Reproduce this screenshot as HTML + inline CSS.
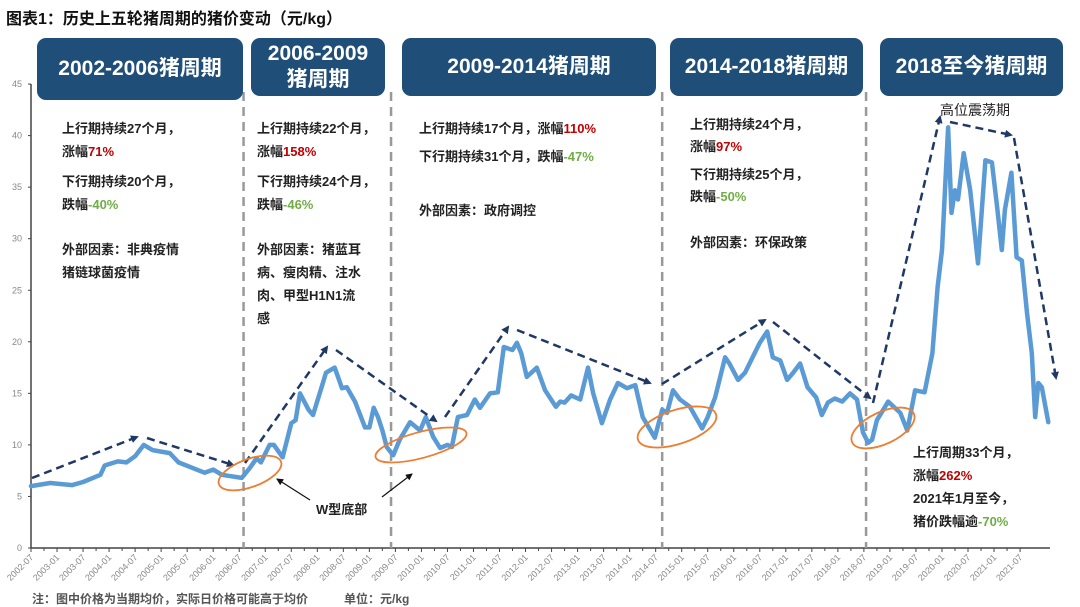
<!DOCTYPE html>
<html><head><meta charset="utf-8">
<style>
body{margin:0;background:#fff;font-family:"Liberation Sans","Noto Sans CJK SC",sans-serif;}
#wrap{position:relative;width:1080px;height:607px;overflow:hidden;}
svg{position:absolute;left:0;top:0;}
.box{position:absolute;background:#1f4e79;color:#fff;border-radius:9px;font-weight:bold;font-size:21px;display:flex;align-items:center;justify-content:center;text-align:center;line-height:26px;}
.ann{position:absolute;font-size:13px;color:#222;font-weight:bold;white-space:nowrap;}
.r{color:#c00000}.g{color:#70ad47}
</style></head><body>
<div id="wrap">
<div class="ann" style="left:6px;top:5px;font-size:16px;color:#111">图表1：历史上五轮猪周期的猪价变动（元/kg）</div>
<svg id="chart" width="1080" height="607"></svg>
<div class="box" style="left:37px;top:38px;width:206px;height:62px">2002-2006猪周期</div>
<div class="box" style="left:251px;top:38px;width:134px;height:58px">2006-2009<br>猪周期</div>
<div class="box" style="left:402px;top:38px;width:254px;height:58px">2009-2014猪周期</div>
<div class="box" style="left:670px;top:38px;width:193px;height:58px">2014-2018猪周期</div>
<div class="box" style="left:880px;top:38px;width:183px;height:58px">2018至今猪周期</div>

<div class="ann" style="left:62px;top:117px;line-height:23px">上行期持续27个月，<br>涨幅<span class="r">71%</span><br><div style="height:7px"></div>下行期持续20个月，<br>跌幅<span class="g">-40%</span><br><div style="height:22px"></div>外部因素：非典疫情<br>猪链球菌疫情</div>
<div class="ann" style="left:257px;top:117px;line-height:23px">上行期持续22个月，<br>涨幅<span class="r">158%</span><br><div style="height:7px"></div>下行期持续24个月，<br>跌幅<span class="g">-46%</span><br><div style="height:22px"></div>外部因素：猪蓝耳<br>病、瘦肉精、注水<br>肉、甲型H1N1流<br>感</div>
<div class="ann" style="left:419px;top:115px;line-height:28px">上行期持续17个月，涨幅<span class="r">110%</span><br>下行期持续31个月，跌幅<span class="g">-47%</span><br><div style="height:26px"></div>外部因素：政府调控</div>
<div class="ann" style="left:690px;top:114px;line-height:22px">上行期持续24个月，<br>涨幅<span class="r">97%</span><br><div style="height:6px"></div>下行期持续25个月，<br>跌幅<span class="g">-50%</span><br><div style="height:24px"></div>外部因素：环保政策</div>
<div class="ann" style="left:940px;top:100px;font-weight:normal;font-size:14px">高位震荡期</div>
<div class="ann" style="left:913px;top:441px;line-height:23px">上行周期33个月，<br>涨幅<span class="r">262%</span><br>2021年1月至今，<br>猪价跌幅逾<span class="g">-70%</span></div>
<div class="ann" style="left:316px;top:499px;font-size:13px">W型底部</div>
<div class="ann" style="left:32px;top:590px;font-size:12px;color:#555">注：图中价格为当期均价，实际日价格可能高于均价　　　单位：元/kg</div>
</div>
<script>
const months=[0,4.4,9.5,12,16,17,20,22,24,26,28,32,34,40,42,44,48.6,50.5,52,53,55,56,58,60,61,62,64,65,67,68,70,71.7,72.8,74.7,77,78,79,80,81,82,83.5,85,87.4,89.7,91,92.7,94.3,96,97,98.4,100.5,102.3,103.5,105.8,107.6,109,111,112,113,114.3,116.6,118.5,121,122,123,124.5,126.6,128.4,129.6,131.6,133.5,135.3,137.4,139.3,141,143.8,145.5,146.6,148,149.6,151.9,154.7,156,157.7,160,161,163,164.6,166,168,169.7,171,172.7,174.3,175.7,177.3,179,181,182.3,183.7,185.3,187,188.8,190.4,191.8,193,193.9,195,197.6,200.4,202,203.8,206,207.8,209,210,211.4,212.2,213,213.7,215,216.5,218.3,220,221.5,222.7,223.8,224.5,226,227.2,228.4,229.6,230.7,231.5,232.2,233,234.5];
const prices=[6.0,6.3,6.1,6.4,7.1,8.0,8.4,8.3,8.9,10.0,9.5,9.2,8.3,7.3,7.6,7.1,6.8,7.8,8.7,8.3,10.0,10.0,8.8,12.1,12.4,15.0,13.4,12.9,15.6,17.0,17.5,15.5,15.6,14.2,11.7,11.7,13.6,12.7,11.4,9.8,9.0,10.5,12.2,11.4,12.7,10.8,9.7,10.0,9.8,12.7,12.9,14.4,13.6,15.0,15.1,19.5,19.2,19.9,18.9,16.6,17.5,15.3,13.7,14.2,14.1,14.8,14.4,17.5,15.0,12.1,14.4,16.0,15.5,15.8,12.7,10.7,13.4,13.1,15.3,14.4,13.7,11.6,12.7,14.6,18.5,17.9,16.3,17.0,18.2,19.9,21.0,18.5,18.2,16.3,17.0,17.9,15.6,14.6,12.9,14.1,14.5,14.2,15.0,14.4,11.2,10.2,10.5,12.4,14.2,13.1,11.4,15.3,15.1,18.9,25.3,28.9,40.8,32.5,34.7,33.8,38.3,34.7,27.6,37.6,37.4,33.1,28.9,32.8,36.4,28.2,27.9,22.8,18.9,12.7,16.0,15.6,12.2];
const yTicks=[0,5,10,15,20,25,30,35,40,45];
const xLabels=[];for(let y=2002;y<=2021;y++){if(y>2002)xLabels.push(y+'-01');xLabels.push(y+'-07');}
const NS='http://www.w3.org/2000/svg';
const svg=document.getElementById('chart');
const x0=31,pxM=4.338,y0=548,pxV=10.31;
const X=m=>x0+m*pxM, Y=v=>y0-v*pxV;
function el(t,a){const e=document.createElementNS(NS,t);for(const k in a)e.setAttribute(k,a[k]);svg.appendChild(e);return e;}
const defs=el('defs',{});
const mk=document.createElementNS(NS,'marker');
mk.setAttribute('id','ah');mk.setAttribute('markerWidth','8');mk.setAttribute('markerHeight','8');mk.setAttribute('refX','6');mk.setAttribute('refY','4');mk.setAttribute('orient','auto');mk.setAttribute('markerUnits','userSpaceOnUse');
const mp=document.createElementNS(NS,'path');mp.setAttribute('d','M0,0 L8,4 L0,8 z');mp.setAttribute('fill','#1f3864');mk.appendChild(mp);defs.appendChild(mk);
let a=el('line',{x1:x0,y1:Y(45),x2:x0,y2:y0,stroke:'#444','stroke-width':1.5});

a=el('line',{x1:x0,y1:y0,x2:1050,y2:y0,stroke:'#444','stroke-width':1.5});

yTicks.forEach(v=>{
 el('line',{x1:x0-3,y1:Y(v),x2:x0,y2:Y(v),stroke:'#444'});
 const t=el('text',{x:x0-9,y:Y(v)+3,'text-anchor':'end','font-size':9,fill:'#888','font-family':'Liberation Sans'});
 t.textContent=v;
 
});
xLabels.forEach((s,i)=>{
 const xx=X(i*6);
 el('line',{x1:xx,y1:y0,x2:xx,y2:y0+4,stroke:'#444'});
 if(i<xLabels.length-1)el('line',{x1:X(i*6+3),y1:y0,x2:X(i*6+3),y2:y0+3,stroke:'#444'});
 const t=el('text',{x:xx+3,y:y0+10,'text-anchor':'end','font-size':9,fill:'#888','font-family':'Liberation Sans',transform:`rotate(-45 ${xx+3} ${y0+10})`});
 t.textContent=s;
 
});
[49,83,145.5,192.5].forEach(m=>{
 const l=el('line',{x1:X(m),y1:92,x2:X(m),y2:y0,stroke:'#999','stroke-width':2.5,'stroke-dasharray':'9,6'});
 
});
const d=months.map((m,i)=>(i?'L':'M')+X(m).toFixed(1)+','+Y(prices[i]).toFixed(1)).join(' ');
const p=el('path',{d:d,fill:'none',stroke:'#5b9bd5','stroke-width':4.5,'stroke-linejoin':'round','stroke-linecap':'round'});

[[32,478,137,437],[147,438,233,465],[245,463,327,347],[336,350,436,421],[445,417,508,327],[517,330,650,383],[662,384,765,320],[773,322,870,398],[873,403,940,117],[950,122,1011,135],[1014,138,1056,378]].forEach(s=>{
 const l=el('line',{x1:s[0],y1:s[1],x2:s[2],y2:s[3],stroke:'#1f3864','stroke-width':2.5,'stroke-dasharray':'8,5','marker-end':'url(#ah)'});
 
});
[[250,473,33,14,-20],[421,445,47,13,-15],[677,427,41,17,-18],[883,428,34,16,-25]].forEach(e=>{
 const c=el('ellipse',{cx:e[0],cy:e[1],rx:e[2],ry:e[3],fill:'none',stroke:'#ed7d31','stroke-width':1.8,transform:`rotate(${e[4]} ${e[0]} ${e[1]})`});
 
});
const mk2=document.createElementNS(NS,'marker');
mk2.setAttribute('id','ah2');mk2.setAttribute('markerWidth','7');mk2.setAttribute('markerHeight','7');mk2.setAttribute('refX','6');mk2.setAttribute('refY','3.5');mk2.setAttribute('orient','auto');mk2.setAttribute('markerUnits','userSpaceOnUse');
const mp2=document.createElementNS(NS,'path');mp2.setAttribute('d','M0,0 L7,3.5 L0,7 z');mp2.setAttribute('fill','#111');mk2.appendChild(mp2);defs.appendChild(mk2);
[[310,500,277,479],[382,497,412,474]].forEach(s=>{
 const l=el('line',{x1:s[0],y1:s[1],x2:s[2],y2:s[3],stroke:'#111','stroke-width':1.2,'marker-end':'url(#ah2)'});
 
});
</script>
</body></html>
